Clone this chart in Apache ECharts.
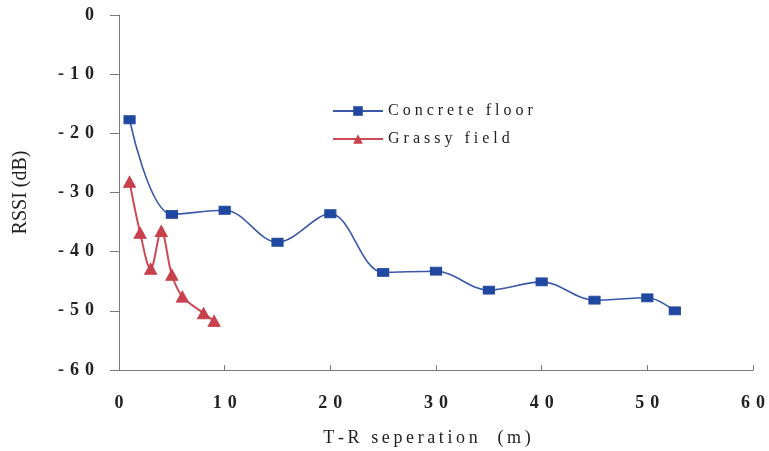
<!DOCTYPE html>
<html>
<head>
<meta charset="utf-8">
<script src="https://cdn.jsdelivr.net/npm/echarts@6/dist/echarts.min.js"></script>
<style>
  html, body { margin: 0; padding: 0; background: #fff; }
  #chart { width: 769px; height: 451px; }
</style>
</head>
<body>
<div id="chart"></div>
<script>
// RSSI measured against transmitter-receiver distance
const concreteDist = [1, 5, 10, 15, 20, 25, 30, 35, 40, 45, 50, 52.6];
const concreteRssi = [-17.7, -33.7, -33.0, -38.4, -33.6, -43.5, -43.3, -46.5, -45.1, -48.2, -47.8, -50.0];
const grassDist = [1, 2, 3, 4, 5, 6, 8, 9];
const grassRssi = [-28.2, -36.8, -42.9, -36.5, -43.9, -47.6, -50.4, -51.7];

const xTicks = [0, 10, 20, 30, 40, 50, 60];
const yTicks = [0, -10, -20, -30, -40, -50, -60];

const seriesNames = ['Concrete floor', 'Grassy field'];
const xTitle = 'T-R seperation  (m)';
const yTitle = 'RSSI (dB)';

// spread the glyphs of a label apart (old-style typeset look)
function track(s, gap) {
  return s.split('').join(gap);
}

const pair = (xs, ys) => xs.map((x, i) => [x, ys[i]]);
const serif = '"Liberation Serif", "DejaVu Serif", serif';

const chart = echarts.init(document.getElementById('chart'));
chart.setOption({
  animation: false,
  backgroundColor: '#ffffff',
  grid: { left: 119, right: 16, top: 15, bottom: 81, outerBoundsMode: 'none', containLabel: false },
  legend: {
    left: 332, top: 103, padding: 0,
    orient: 'vertical',
    itemWidth: 50, itemHeight: 12, itemGap: 12,
    data: seriesNames,
    formatter: n => track(n, '\u2005'),
    textStyle: { fontFamily: serif, fontSize: 16, color: '#222' }
  },
  xAxis: {
    type: 'value', min: xTicks[0], max: xTicks[xTicks.length - 1], interval: 10,
    name: track(xTitle, '\u2009'), nameLocation: 'middle', nameGap: 59,
    nameTextStyle: { fontFamily: serif, fontSize: 18, color: '#222', padding: [0, 18, 0, 0] },
    axisLine: { onZero: false, lineStyle: { color: '#7a7a7a', width: 1 } },
    axisTick: { inside: true, length: 5, lineStyle: { color: '#7a7a7a' } },
    splitLine: { show: false },
    axisLabel: {
      margin: 24, fontFamily: serif, fontSize: 18, fontWeight: 'bold', color: '#222',
      formatter: v => track(String(v), '\u2004')
    }
  },
  yAxis: {
    type: 'value', min: yTicks[yTicks.length - 1], max: yTicks[0], interval: 10,
    name: yTitle, nameLocation: 'middle', nameGap: 88,
    nameTextStyle: { fontFamily: serif, fontSize: 20, color: '#222' },
    axisLine: { show: true, onZero: false, lineStyle: { color: '#7a7a7a', width: 1 } },
    axisTick: { show: true, length: 9, lineStyle: { color: '#7a7a7a' } },
    splitLine: { show: false },
    axisLabel: {
      margin: 25, fontFamily: serif, fontSize: 18, fontWeight: 'bold', color: '#222',
      formatter: v => track(String(v), '\u2004')
    }
  },
  series: [
    {
      name: seriesNames[0], type: 'line', smooth: 0.35,
      data: pair(concreteDist, concreteRssi),
      symbol: 'rect', symbolSize: [11, 8],
      lineStyle: { color: '#3a58a8', width: 1.6 },
      itemStyle: { color: '#2148a0', borderColor: '#2148a0' }
    },
    {
      name: seriesNames[1], type: 'line', smooth: 0.35,
      data: pair(grassDist, grassRssi),
      symbol: 'triangle', symbolSize: [12, 11],
      lineStyle: { color: '#cc4a55', width: 2 },
      itemStyle: { color: '#c8404c', borderColor: '#c8404c' }
    }
  ]
});
</script>
</body>
</html>
